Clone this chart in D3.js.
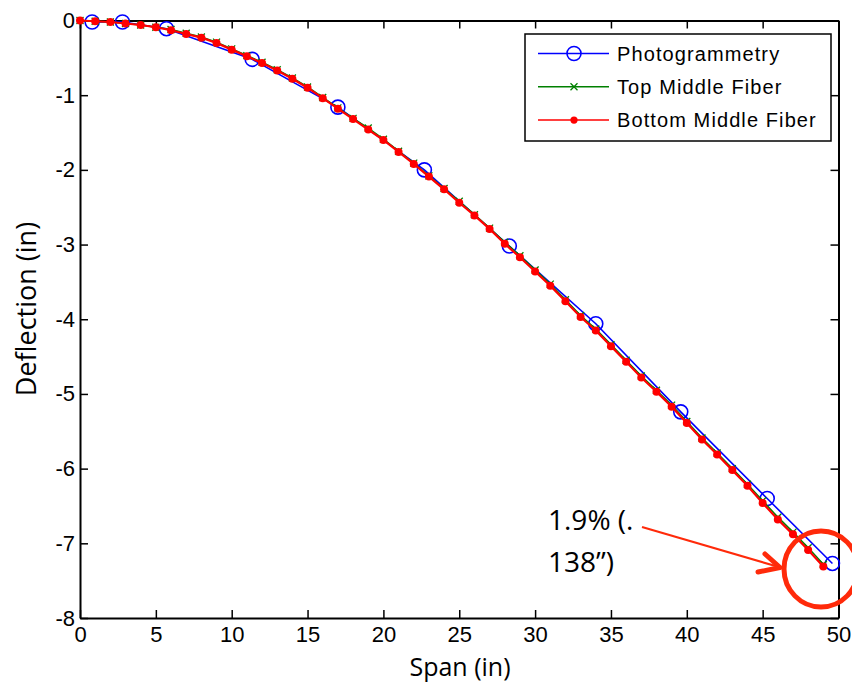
<!DOCTYPE html>
<html>
<head>
<meta charset="utf-8">
<script src="https://cdn.jsdelivr.net/npm/d3@7"></script>
<style>
  body { margin: 0; background: #fff; }
  .axis path, .axis line { stroke: #000; }
  .axis text { font-family: "Liberation Sans", Arial, sans-serif; font-size: 22px; fill: #000; }
</style>
</head>
<body>
<svg width="852" height="685"></svg>
<script>
// photogrammetry readings
var photoSpan = [0.8, 2.8, 5.7, 11.35, 17.0, 22.7, 28.3, 34.0, 39.6, 45.3, 49.6];
var photoDefl = [-0.02, -0.02, -0.11, -0.52, -1.16, -2.0, -3.02, -4.06, -5.24, -6.4, -7.27];

// fiber readings, one per inch
var fiberSpan = d3.range(0, 50);
var topFiber = [0, -0.01, -0.02, -0.04, -0.06, -0.09, -0.12, -0.17, -0.22, -0.29,
  -0.38, -0.47, -0.56, -0.66, -0.77, -0.89, -1.03, -1.17, -1.31, -1.44,
  -1.59, -1.75, -1.91, -2.08, -2.25, -2.42, -2.60, -2.78, -2.97, -3.15,
  -3.34, -3.53, -3.74, -3.95, -4.13, -4.34, -4.55, -4.76, -4.95, -5.15,
  -5.37, -5.59, -5.79, -6.00, -6.21, -6.43, -6.65, -6.85, -7.06, -7.28];
var bottomFiber = [0, -0.01, -0.02, -0.04, -0.06, -0.09, -0.13, -0.18, -0.23, -0.30,
  -0.39, -0.48, -0.57, -0.67, -0.78, -0.90, -1.04, -1.18, -1.32, -1.46,
  -1.60, -1.76, -1.92, -2.09, -2.26, -2.44, -2.61, -2.79, -2.99, -3.17,
  -3.36, -3.55, -3.76, -3.97, -4.15, -4.36, -4.57, -4.78, -4.97, -5.17,
  -5.39, -5.61, -5.81, -6.02, -6.23, -6.46, -6.68, -6.88, -7.09, -7.31];

var xTicks = [0, 5, 10, 15, 20, 25, 30, 35, 40, 45, 50];
var yTicks = [0, -1, -2, -3, -4, -5, -6, -7, -8];
var seriesNames = ["Photogrammetry", "Top Middle Fiber", "Bottom Middle Fiber"];
var seriesColors = ["#0000ff", "#008000", "#ff0000"];

var svg = d3.select("svg"),
    plotLeft = 80, plotRight = 838.5, plotTop = 20.5, plotBottom = 618;

var x = d3.scaleLinear().domain([0, 50]).range([plotLeft, plotRight]);
var y = d3.scaleLinear().domain([-8, 0]).range([plotBottom, plotTop]);

// axes, ticks inside like matlab
svg.append("g").attr("class", "axis")
    .attr("transform", "translate(0," + plotBottom + ")")
    .call(d3.axisBottom(x).tickValues(xTicks).tickSizeInner(-8).tickSizeOuter(0).tickPadding(6))
    .call(function(g) { g.selectAll("text").attr("dy", "0.8em"); });
svg.append("g").attr("class", "axis")
    .attr("transform", "translate(0," + plotTop + ")")
    .call(d3.axisTop(x).tickValues(xTicks).tickSizeInner(-8).tickSizeOuter(0).tickFormat(""));
svg.append("g").attr("class", "axis")
    .attr("transform", "translate(" + plotLeft + ",0)")
    .call(d3.axisLeft(y).tickValues(yTicks).tickSizeInner(-8).tickSizeOuter(0).tickPadding(5)
      .tickFormat(function(d) { return d === 0 ? "0" : "-" + Math.abs(d); }));
svg.append("g").attr("class", "axis")
    .attr("transform", "translate(" + plotRight + ",0)")
    .call(d3.axisRight(y).tickValues(yTicks).tickSizeInner(-8).tickSizeOuter(0).tickFormat(""));
svg.selectAll(".axis path").attr("stroke-width", 2);
svg.selectAll(".axis line").attr("stroke-width", 1.5);

var line = d3.line()
    .x(function(d) { return x(d[0]); })
    .y(function(d) { return y(d[1]); });

var photo = photoSpan.map(function(s, i) { return [s, photoDefl[i]]; });
var topPts = fiberSpan.map(function(s, i) { return [s, topFiber[i]]; });
var botPts = fiberSpan.map(function(s, i) { return [s, bottomFiber[i]]; });

svg.append("path").datum(photo).attr("d", line)
    .attr("fill", "none").attr("stroke", seriesColors[0]).attr("stroke-width", 1.6);
svg.append("g").selectAll("circle").data(photo).enter().append("circle")
    .attr("cx", function(d) { return x(d[0]); })
    .attr("cy", function(d) { return y(d[1]); })
    .attr("r", 7).attr("fill", "none")
    .attr("stroke", seriesColors[0]).attr("stroke-width", 1.6);

svg.append("path").datum(topPts).attr("d", line)
    .attr("fill", "none").attr("stroke", seriesColors[1]).attr("stroke-width", 1.6);
svg.append("g").selectAll("path").data(topPts).enter().append("path")
    .attr("d", function(d) {
      var cx = x(d[0]), cy = y(d[1]), s = 3.5;
      return "M" + (cx - s) + "," + (cy - s) + "L" + (cx + s) + "," + (cy + s) +
             "M" + (cx - s) + "," + (cy + s) + "L" + (cx + s) + "," + (cy - s);
    })
    .attr("stroke", seriesColors[1]).attr("stroke-width", 1.3);

svg.append("path").datum(botPts).attr("d", line)
    .attr("fill", "none").attr("stroke", seriesColors[2]).attr("stroke-width", 2.2);
svg.append("g").selectAll("circle").data(botPts).enter().append("circle")
    .attr("cx", function(d) { return x(d[0]); })
    .attr("cy", function(d) { return y(d[1]); })
    .attr("r", 4).attr("fill", seriesColors[2]);

// legend
var legend = svg.append("g").attr("transform", "translate(525,34)");
legend.append("rect").attr("width", 306).attr("height", 107)
    .attr("fill", "#fff").attr("stroke", "#000").attr("stroke-width", 1.5);
var item = legend.selectAll("g.item").data(seriesNames).enter().append("g")
    .attr("class", "item")
    .attr("transform", function(d, i) { return "translate(0," + (19.5 + i * 33.3) + ")"; });
item.append("line").attr("x1", 13).attr("x2", 84)
    .attr("stroke", function(d, i) { return seriesColors[i]; }).attr("stroke-width", 1.5);
item.each(function(d, i) {
  var g = d3.select(this);
  if (i === 0) g.append("circle").attr("cx", 49).attr("r", 7).attr("fill", "none")
      .attr("stroke", seriesColors[0]).attr("stroke-width", 1.6);
  if (i === 1) g.append("path").attr("d", "M45.5,-3.5L52.5,3.5M45.5,3.5L52.5,-3.5")
      .attr("stroke", seriesColors[1]).attr("stroke-width", 1.3);
  if (i === 2) g.append("circle").attr("cx", 49).attr("r", 3.6).attr("fill", seriesColors[2]);
});
item.append("text").attr("x", 92).attr("dy", "0.36em")
    .attr("font-family", "'Liberation Sans', Arial, sans-serif")
    .attr("font-size", 20).attr("letter-spacing", 1.1)
    .text(function(d) { return d; });

// axis titles
svg.append("text").attr("x", 460).attr("y", 676)
    .attr("text-anchor", "middle")
    .attr("font-family", "'Open Sans', sans-serif").attr("font-size", 25)
    .text("Span (in)");
svg.append("text")
    .attr("transform", "translate(36,309) rotate(-90)")
    .attr("text-anchor", "middle")
    .attr("font-family", "'Open Sans', sans-serif").attr("font-size", 27)
    .text("Deflection (in)");

// annotation
var note = svg.append("text")
    .attr("font-family", "'Open Sans', sans-serif").attr("font-size", 28).attr("fill", "#000");
note.append("tspan").attr("x", 548).attr("y", 530).text("1.9% (.");
note.append("tspan").attr("x", 548).attr("y", 572).text("138\u201d)");

var arrowColor = "#ff2a0a";
svg.append("line").attr("x1", 642).attr("y1", 527).attr("x2", 779).attr("y2", 567)
    .attr("stroke", arrowColor).attr("stroke-width", 2.2);
svg.append("path").attr("d", "M765,554L780,567.5L758,572")
    .attr("fill", "none").attr("stroke", arrowColor).attr("stroke-width", 5)
    .attr("stroke-linecap", "round").attr("stroke-linejoin", "round");
svg.append("ellipse").attr("cx", 821).attr("cy", 569).attr("rx", 37).attr("ry", 38)
    .attr("fill", "none").attr("stroke", arrowColor).attr("stroke-width", 5);
</script>
</body>
</html>
